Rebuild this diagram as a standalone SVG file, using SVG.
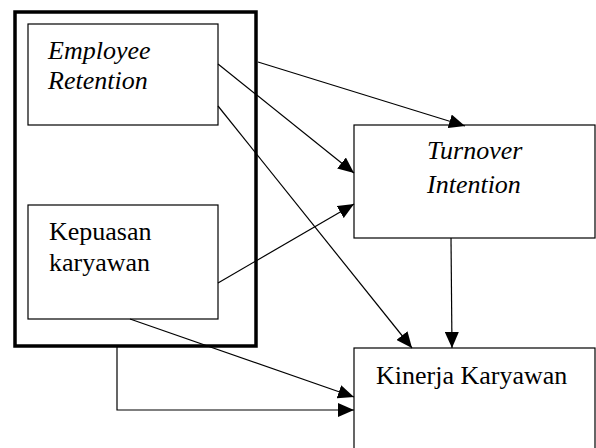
<svg xmlns="http://www.w3.org/2000/svg" width="596" height="448" viewBox="0 0 596 448">
<style>
  .box { fill: #fff; stroke: #000; stroke-width: 1.2; }
  .outer { fill: none; stroke: #000; stroke-width: 3.5; }
  .lbl { font-family: "Liberation Serif", "Times New Roman", serif; font-size: 26px; fill: #000; }
  .it { font-style: italic; }
  .conn { fill: none; stroke: #000; stroke-width: 1.2; marker-end: url(#arr); }
</style>
<defs>
  <marker id="arr" viewBox="0 0 16 14" refX="16" refY="7" markerWidth="16" markerHeight="14" markerUnits="userSpaceOnUse" orient="auto">
    <path d="M0,0 L16,7 L0,14 z" fill="#000"/>
  </marker>
</defs>
<rect width="596" height="448" fill="#fff"/>
<g id="group-outer">
  <rect class="outer" x="15" y="12" width="241" height="334"/>
</g>
<g id="node-employee-retention">
  <rect class="box" x="28" y="24" width="190" height="101"/>
  <text class="lbl it" x="48" y="59">Employee</text>
  <text class="lbl it" x="48" y="89">Retention</text>
</g>
<g id="node-kepuasan">
  <rect class="box" x="28" y="205" width="190" height="114"/>
  <text class="lbl" x="49" y="240">Kepuasan</text>
  <text class="lbl" x="49" y="271">karyawan</text>
</g>
<g id="node-turnover">
  <rect class="box" x="354" y="125" width="241" height="113"/>
  <text class="lbl it" x="427" y="159">Turnover</text>
  <text class="lbl it" x="427" y="193">Intention</text>
</g>
<g id="node-kinerja">
  <rect class="box" x="354" y="348" width="241" height="120"/>
  <text class="lbl" x="376" y="384">Kinerja Karyawan</text>
</g>
<g id="connectors">
  <path class="conn" d="M258,62 L465,126"/>
  <path class="conn" d="M218,64 L354,173"/>
  <path class="conn" d="M218,106 L412,348"/>
  <path class="conn" d="M218,283 L354,204"/>
  <path class="conn" d="M130,319 L354,397"/>
  <path class="conn" d="M117,346 L117,410 L354,410"/>
  <path class="conn" d="M451,238 L452,348"/>
</g>
</svg>
